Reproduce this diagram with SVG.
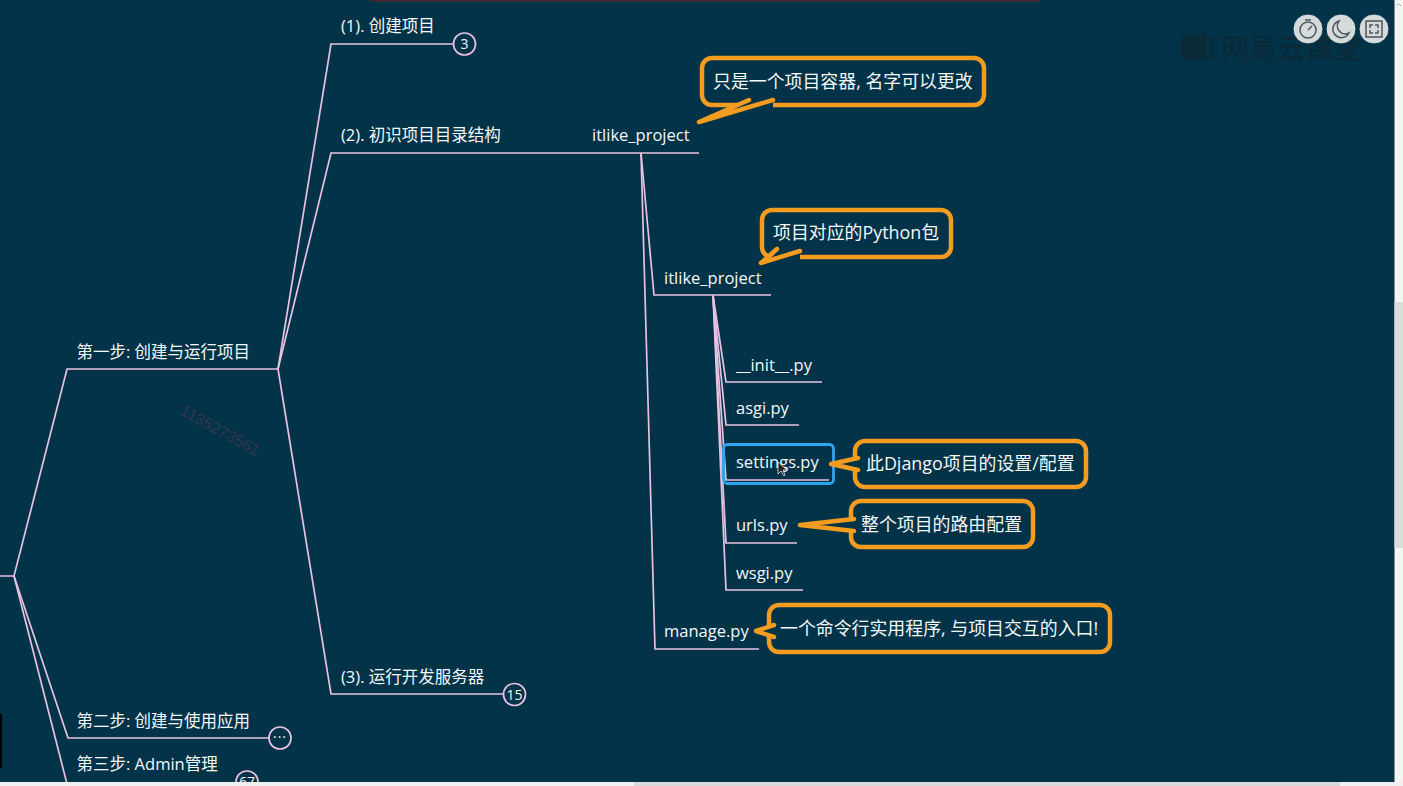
<svg xmlns="http://www.w3.org/2000/svg" width="1403" height="786" viewBox="0 0 1403 786">
<style>
.t{font-family:"Open Sans","Noto Sans CJK SC",sans-serif;font-size:16.5px;fill:#f5f8f8}
.k{font-size:17.9px}
.c{fill:none;stroke:#e8c2e0;stroke-width:1.7}
.b{fill:#023348;stroke:#f39c1f;stroke-width:4.500}
.p{fill:none;stroke:#f39c1f;stroke-width:4.500;stroke-linejoin:round;stroke-linecap:round}
.f{fill:#023348}
.n{fill:#023348;stroke:#e8c2e0;stroke-width:1.7}
.nt{font-family:"Open Sans",sans-serif;font-size:14px;fill:#f2f5f5;text-anchor:middle}
.i{fill:#d5dadb;stroke:#023348;stroke-width:1}
.g{fill:none;stroke:#4a565e;stroke-width:1.500}
</style>
<rect width="1403" height="786" fill="#023348"/>
<rect x="370" y="0" width="670" height="2" fill="#3c2a30"/>
<rect x="0" y="714" width="2" height="54" fill="#000"/>
<g id="watermark">
<text x="179" y="414" transform="rotate(29 179 414)" font-family="Liberation Sans,sans-serif" font-size="16" fill="#33384a">1135273561</text>
<path d="M1181 37 L1206 32 V59 H1195 L1193 62 L1191 59 H1181 Z" fill="#0b2a38"/>
<path d="M1206 38 H1212 V59 H1206" fill="none" stroke="#0b2a38" stroke-width="2.500"/>
<text x="1221" y="59" font-family="Noto Sans CJK SC,sans-serif" font-size="28" font-weight="500" fill="#0b2a38">网易云课堂</text>
</g>
<g id="connectors">
<path class="c" d="M0 576H14L67 369H278"/>
<path class="c" d="M14 576L68 738H269"/>
<path class="c" d="M14 576L67 784"/>
<path class="c" d="M278 369L331 44H453"/>
<path class="c" d="M278 369L331 153H699"/>
<path class="c" d="M278 369L331 694H503"/>
<path class="c" d="M641 153L654 295H771"/>
<path class="c" d="M641 153L655 649H759"/>
<path class="c" d="M713 295L726 382H822"/>
<path class="c" d="M713 295L726 425H799"/>
<path class="c" d="M713 295L726 480H829"/>
<path class="c" d="M713 295L726 543H797"/>
<path class="c" d="M713 295L726 590H803"/>
</g>
<g id="n1"><text class="t" x="341" y="32">(1). 创建项目</text><circle class="n" cx="464.500" cy="44" r="11"/><text class="nt" x="464.500" y="49">3</text></g>
<g id="n2"><text class="t" x="341" y="141">(2). 初识项目目录结构</text></g>
<g id="n3"><text class="t" x="341" y="683">(3). 运行开发服务器</text><circle class="n" cx="514.500" cy="694.500" r="11"/><text class="nt" x="514.500" y="699.500">15</text></g>
<g id="step1"><text class="t" x="76.500" y="358">第一步: 创建与运行项目</text></g>
<g id="step2"><text class="t" x="76.500" y="727">第二步: 创建与使用应用</text><circle class="n" cx="280" cy="738" r="11"/><text class="nt" x="280" y="742" letter-spacing="1">···</text></g>
<g id="step3"><text class="t" x="76.500" y="770">第三步: Admin管理</text><circle class="n" cx="247" cy="782" r="11"/><text class="nt" x="247" y="787">67</text></g>
<g id="project"><text class="t" x="592" y="141">itlike_project</text></g>
<g id="pkg"><text class="t" x="664" y="284">itlike_project</text></g>
<g id="init"><text class="t" x="736" y="370.500">__init__.py</text></g>
<g id="asgi"><text class="t" x="736" y="414">asgi.py</text></g>
<g id="settings"><rect x="723.500" y="444.500" width="110" height="39" rx="4" fill="none" stroke="#2ea7ee" stroke-width="2.800"/><text class="t" x="736" y="467.500">settings.py</text></g>
<g id="urls"><text class="t" x="736" y="531">urls.py</text></g>
<g id="wsgi"><text class="t" x="736" y="579">wsgi.py</text></g>
<g id="manage"><text class="t" x="664" y="637">manage.py</text></g>
<g id="c1"><rect class="b" x="702" y="58" width="282" height="47" rx="10"/><path class="f" d="M697 122L750 101H773V108H730Z"/><path class="p" d="M749 100L699 122L773 100"/><text class="t k" x="713" y="88">只是一个项目容器, 名字可以更改</text></g>
<g id="c2"><rect class="b" x="762" y="210" width="189" height="47" rx="10"/><path class="f" d="M765 262L778 252H800V260H780Z"/><path class="p" d="M777 249L761 263L800 251"/><text class="t k" x="773" y="239">项目对应的Python包</text></g>
<g id="c3"><rect class="b" x="855" y="441" width="231" height="46" rx="10"/><path class="f" d="M837 464L860 458V470Z"/><path class="p" d="M858 458L831 464L858 470"/><text class="t k" x="866" y="470">此Django项目的设置/配置</text></g>
<g id="c4"><rect class="b" x="851" y="501" width="182" height="46" rx="10"/><path class="f" d="M805 525L856 520V530Z"/><path class="p" d="M854 519L800 525L854 531"/><text class="t k" x="861" y="531">整个项目的路由配置</text></g>
<g id="c5"><rect class="b" x="769" y="605" width="341" height="47" rx="10"/><path class="f" d="M760 631L775 626V636Z"/><path class="p" d="M774 625L756 631L774 637"/><text class="t k" x="780" y="635">一个命令行实用程序, 与项目交互的入口!</text></g>
<g id="cursor"><path d="M778 462V474L781 471L784 476L785 475L783 470H787Z" fill="#222" stroke="#fff" stroke-width="0.700"/></g>
<g id="toolbar">
<circle class="i" cx="1308" cy="29" r="15"/><circle class="g" cx="1308" cy="30" r="8"/><path class="g" d="M1305 20H1311M1308 30L1312 26"/>
<circle class="i" cx="1341" cy="29" r="15"/><path class="g" d="M1339 21A8.500 8.500 0 1 0 1349 33A8 8 0 0 1 1339 21Z"/>
<circle class="i" cx="1374" cy="29" r="15"/><rect class="g" x="1366" y="21" width="16" height="16"/><path class="g" d="M1370 28V25H1373M1375 25H1378V28M1378 30V33H1375M1373 33H1370V30"/>
</g>
<rect x="1393.500" y="0" width="1" height="782" fill="#1d2a30"/>
<rect x="1394.500" y="0" width="8.500" height="786" fill="#f4f4f4"/>
<rect x="1394.500" y="302" width="8.500" height="246" fill="#dcdcdc"/>
<path d="M1396 6L1398.500 3.500L1401 6" fill="none" stroke="#aaa" stroke-width="1"/>
<rect x="0" y="782" width="1403" height="4" fill="#f1f1f1"/>
<rect x="634" y="782" width="706" height="4" fill="#d8d8d8"/>
</svg>
